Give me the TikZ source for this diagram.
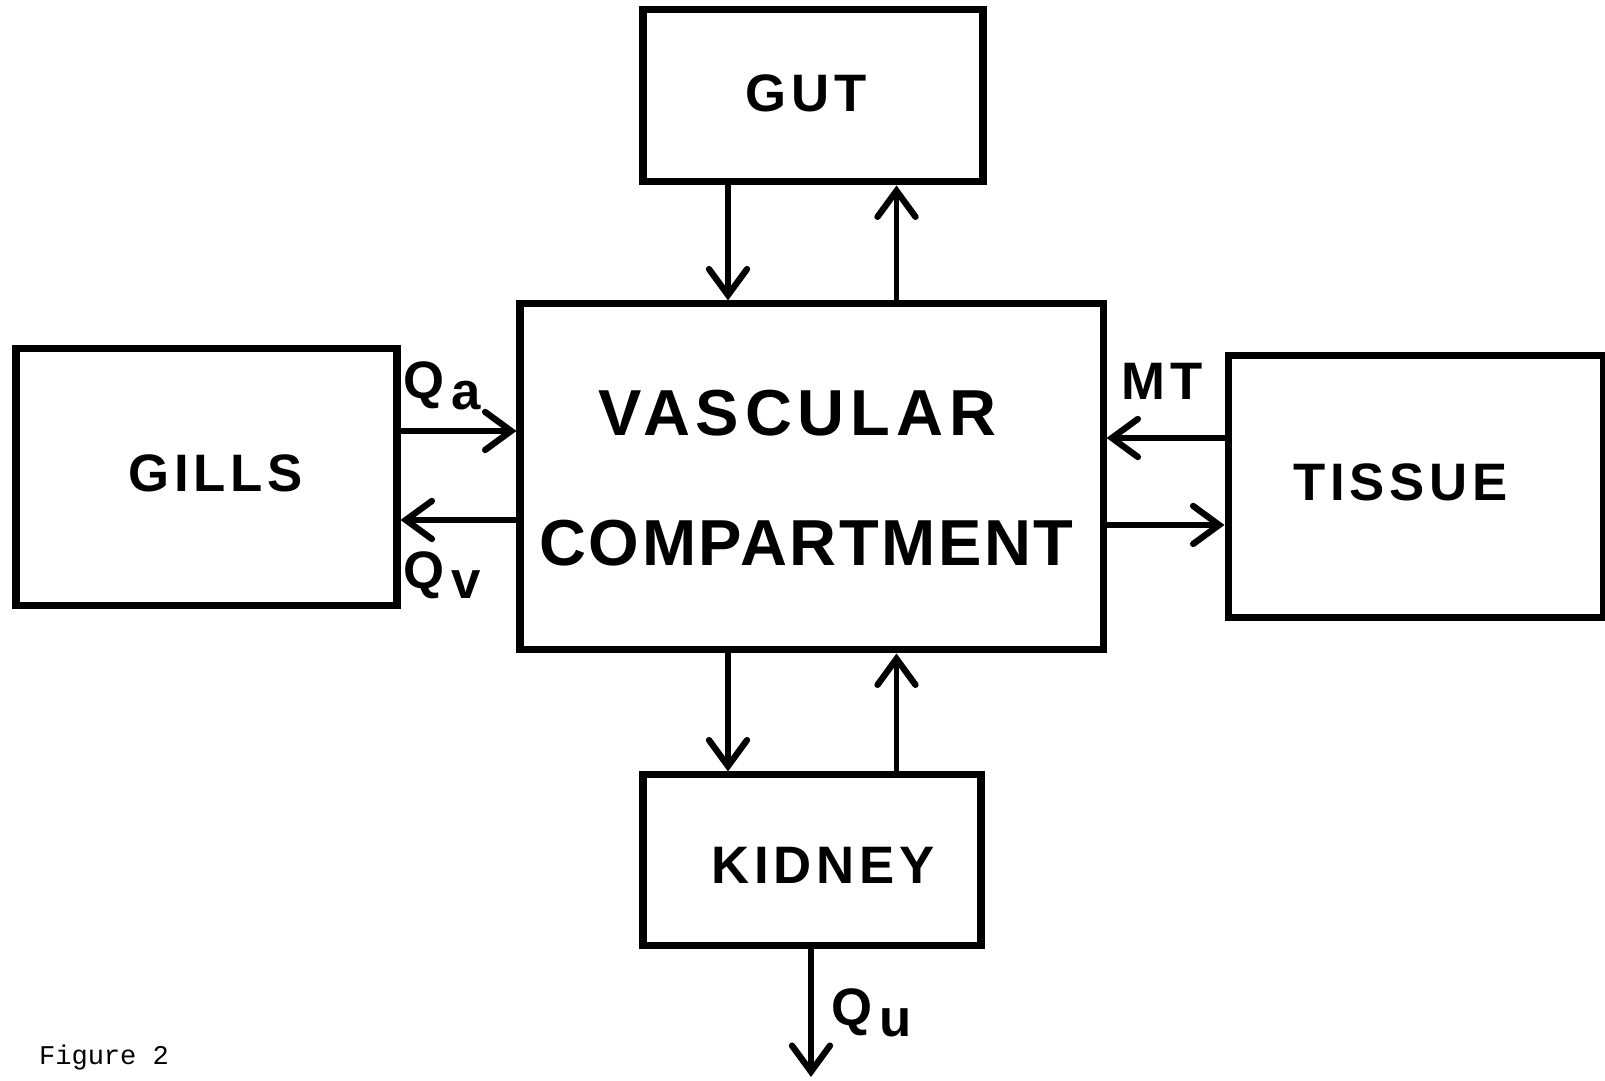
\documentclass[tikz,border=0pt]{standalone}
\usepackage{fontspec}
\usepackage{tikz}
\usetikzlibrary{arrows.meta}
\newfontfamily\boxfont[LetterSpace=9]{Liberation Sans}
\newfontfamily\capfont{Liberation Mono}

\begin{document}
\begin{tikzpicture}[
    box/.style={draw, line width=2pt, inner sep=0pt},
    arr/.style={-{Straight Barb[length=2.6mm,width=3.8mm,line cap=round,line width=1.8pt]}, line width=1.5pt},
    big/.style={font=\boxfont\bfseries\fontsize{15}{18}\selectfont},
    huge/.style={font=\boxfont\bfseries\fontsize{18.5}{36}\selectfont}
]
    \useasboundingbox (0,0) rectangle (16.05,10.81);

    % Compartments
    \node[box, minimum width=5.83cm, minimum height=3.46cm] (vasc) at (8.115,6.04) {};
    \node[box, minimum width=3.40cm, minimum height=1.72cm] (gut) at (8.13,9.85) {};
    \node[box, minimum width=3.81cm, minimum height=2.57cm] (gills) at (2.065,6.035) {};
    \node[box, minimum width=3.75cm, minimum height=2.62cm] (tissue) at (14.155,5.94) {};
    \node[box, minimum width=3.38cm, minimum height=1.71cm] (kidney) at (8.12,2.205) {};

    % Names
    \node[huge] (vasctop) at ([xshift=-0.14cm,yshift=0.64cm]vasc.center) {VASCULAR};
    \node[huge] (vascbot) at ([xshift=-0.05cm,yshift=-0.66cm]vasc.center) {\addfontfeatures{LetterSpace=4}COMPARTMENT};
    \node[big] (guttext) at ([xshift=-0.07cm,yshift=0.03cm]gut.center) {GUT};
    \node[big] (gillstext) at ([xshift=0.09cm,yshift=0.04cm]gills.center) {GILLS};
    \node[big] (tissuetext) at ([xshift=-0.15cm,yshift=0.05cm]tissue.center) {TISSUE};
    \node[big] (kidneytext) at ([xshift=0.11cm,yshift=-0.05cm]kidney.center) {KIDNEY};

    % Arrow positions
    \coordinate (cl) at (7.28,0);
    \coordinate (cr) at (8.965,0);
    \coordinate (ga) at (0,6.50);
    \coordinate (gv) at (0,5.61);
    \coordinate (ta) at (0,6.43);
    \coordinate (tb) at (0,5.56);
    \coordinate (out) at (8.11,0.04);

    % Gut
    \draw[arr] (gut.south -| cl) -- (vasc.north -| cl);
    \draw[arr] (vasc.north -| cr) -- (gut.south -| cr);

    % Kidney
    \draw[arr] (vasc.south -| cl) -- (kidney.north -| cl);
    \draw[arr] (kidney.north -| cr) -- (vasc.south -| cr);
    \draw[arr] (kidney.south -| out) -- (out);

    % Gills
    \draw[arr] (gills.east |- ga) -- (vasc.west |- ga);
    \draw[arr] (vasc.west |- gv) -- (gills.east |- gv);

    % Tissue
    \draw[arr] (tissue.west |- ta) -- (vasc.east |- ta);
    \draw[arr] (vasc.east |- tb) -- (tissue.west |- tb);

    % Flow labels
    \node[big] (qa) at (4.42,6.95) {Q\kern2pt\raisebox{-3pt}{a}};
    \node[big] (qv) at (4.42,5.06) {Q\kern2pt\raisebox{-3pt}{v}};
    \node[big] (mt) at (11.62,7.00) {MT};
    \node[big] (qu) at (8.72,0.68) {Q\kern2pt\raisebox{-3pt}{u}};

    % Caption
    \node[font=\capfont\fontsize{7.7}{9}\selectfont] (cap) at (1.04,0.23) {Figure 2};
\end{tikzpicture}
\end{document}
